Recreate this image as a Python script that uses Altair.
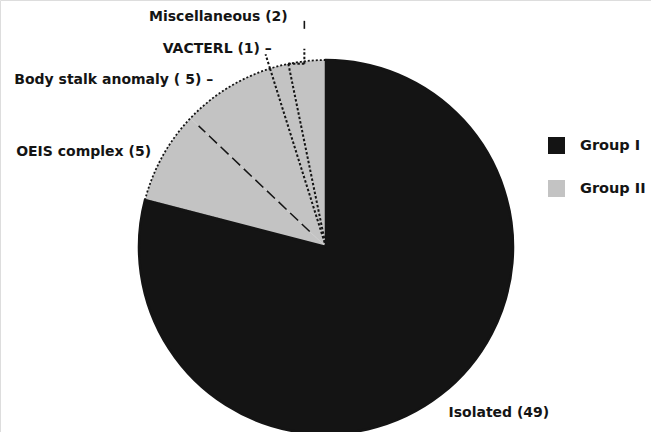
import math

import altair as alt
import pandas as pd

# ---- data -------------------------------------------------------------
categories = ["Isolated", "OEIS complex", "Body stalk anomaly", "VACTERL", "Miscellaneous"]
counts = [49, 5, 5, 1, 2]
groups = ["Group I", "Group II", "Group II", "Group II", "Group II"]
label_texts = [
    "Isolated (49)",
    "OEIS complex (5)",
    "Body stalk anomaly ( 5) \u2013",
    "VACTERL (1) \u2013",
    "Miscellaneous (2)",
]
group_names = ["Group I", "Group II"]
group_colors = ["#141414", "#c3c3c3"]

# ---- layout -----------------------------------------------------------
W, H = 651, 432
R = 187            # pie radius, px
CX, CY = 326, 247  # pie centre, px
FONT = "DejaVu Sans"
INK = "#141414"

# label placement: distance from centre (in radii) and a small nudge in px
label_layout = {
    "Isolated": (1.07, 0, 8),
    "OEIS complex": (1.07, 0, 2),
    "Body stalk anomaly": (1.07, -7, 3),
    "VACTERL": (1.07, -4, -4),
    "Miscellaneous": (1.07, -18, -31),
}

# linear scales measured in pie radii, centre at (0, 0)
xs = alt.Scale(domain=[-CX / R, (W - CX) / R], nice=False, zero=False)
ys = alt.Scale(domain=[-(H - CY) / R, CY / R], nice=False, zero=False)

total = sum(counts)
rows = []
cum = 0
for cat, n, g, txt in zip(categories, counts, groups, label_texts):
    a0 = 2 * math.pi * cum / total
    a1 = 2 * math.pi * (cum + n) / total
    mid = (a0 + a1) / 2
    r, nx, ny = label_layout[cat]
    rows.append(
        dict(
            category=cat, group=g, count=n, label=txt,
            start=a0, end=a1, cx=0.0, cy=0.0,
            lx=r * math.sin(mid) + nx / R,
            ly=r * math.cos(mid) - ny / R,
        )
    )
    cum += n
slices = pd.DataFrame(rows)


def angle_at(c):
    return 2 * math.pi * c / total


def ray(c, r0, r1):
    a = angle_at(c)
    return dict(x=r0 * math.sin(a), y=r0 * math.cos(a), x2=r1 * math.sin(a), y2=r1 * math.cos(a))


cum_ends = slices["count"].cumsum().tolist()
group1_end = angle_at(cum_ends[0])

# boundaries between the Group II slices
long_dash = pd.DataFrame([ray(cum_ends[1], 0.12, 0.94)])
dotted = pd.DataFrame([ray(cum_ends[2], 0.0, 1.0), ray(cum_ends[3], 0.0, 1.0),
                       ray(cum_ends[2], 1.0, 1.08)])

# leader for the Miscellaneous label, hooked onto the rim point of its slice
ma = angle_at(cum_ends[3])
mx, my = math.sin(ma), math.cos(ma)
hook = 16 / R
misc_dotted = pd.DataFrame([
    dict(x=mx, y=my, x2=mx + hook, y2=my),
    dict(x=mx + hook, y=my, x2=mx + hook, y2=my + 15 / R),
])
misc_tick = pd.DataFrame([dict(x=mx + hook, y=my + 35 / R, x2=mx + hook, y2=my + 43 / R)])

pos = dict(
    x=alt.X("cx:Q", scale=xs, axis=None),
    y=alt.Y("cy:Q", scale=ys, axis=None),
)

slice_layer = alt.Chart(slices).mark_arc(radius=R, strokeWidth=0).encode(
    theta=alt.Theta("start:Q", scale=None, stack=False),
    theta2="end:Q",
    color=alt.Color(
        "group:N",
        scale=alt.Scale(domain=group_names, range=group_colors),
        legend=alt.Legend(
            title=None, orient="none", legendX=548, legendY=137,
            symbolType="square", symbolSize=289, symbolStrokeWidth=0,
            labelFont=FONT, labelFontSize=14.5, labelFontWeight="bold",
            labelColor=INK, labelOffset=15, rowPadding=26, padding=0,
        ),
    ),
    **pos,
)

group2 = pd.DataFrame([dict(start=group1_end, end=2 * math.pi, cx=0.0, cy=0.0)])
outline_layer = alt.Chart(group2).mark_arc(
    radius=R, fillOpacity=0, stroke=INK, strokeWidth=1.8, strokeDash=[2, 2]
).encode(theta=alt.Theta("start:Q", scale=None, stack=False), theta2="end:Q", **pos)

group1 = pd.DataFrame([dict(start=0.0, end=group1_end, cx=0.0, cy=0.0)])
black_layer = alt.Chart(group1).mark_arc(
    radius=R, color=INK, stroke=INK, strokeWidth=2.5
).encode(theta=alt.Theta("start:Q", scale=None, stack=False), theta2="end:Q", **pos)


def rules(df, **style):
    return alt.Chart(df).mark_rule(color=INK, **style).encode(
        x=alt.X("x:Q", scale=xs, axis=None),
        y=alt.Y("y:Q", scale=ys, axis=None),
        x2="x2:Q",
        y2="y2:Q",
    )


long_dash_layer = rules(long_dash, strokeWidth=1.5, strokeDash=[11, 5])
dotted_layer = rules(dotted, strokeWidth=2, strokeDash=[2.5, 2])
misc_dotted_layer = rules(misc_dotted, strokeWidth=2, strokeDash=[2.5, 2])
misc_tick_layer = rules(misc_tick, strokeWidth=1.6)

text_style = dict(font=FONT, fontSize=14, fontWeight="bold", color=INK, baseline="middle")
left_labels = alt.Chart(slices[slices["category"] != "Isolated"]).mark_text(
    align="right", **text_style
).encode(
    x=alt.X("lx:Q", scale=xs, axis=None),
    y=alt.Y("ly:Q", scale=ys, axis=None),
    text="label:N",
)
right_labels = alt.Chart(slices[slices["category"] == "Isolated"]).mark_text(
    align="left", **text_style
).encode(
    x=alt.X("lx:Q", scale=xs, axis=None),
    y=alt.Y("ly:Q", scale=ys, axis=None),
    text="label:N",
)

chart = (
    alt.layer(
        slice_layer, outline_layer, black_layer,
        long_dash_layer, dotted_layer, misc_dotted_layer, misc_tick_layer,
        left_labels, right_labels,
    )
    .properties(width=W, height=H, autosize=alt.AutoSizeParams(type="none"), padding=0)
    .configure_view(stroke=None)
    .configure(background="white")
)

chart.save("out.html", embed_options={"renderer": "svg", "actions": False})
